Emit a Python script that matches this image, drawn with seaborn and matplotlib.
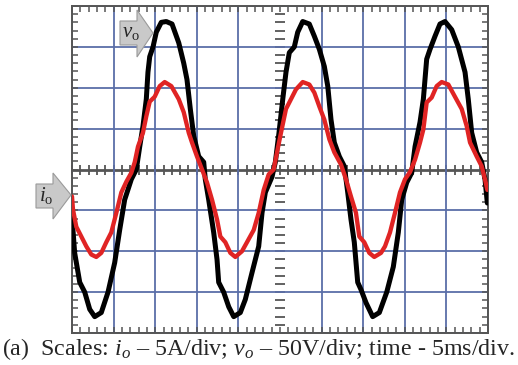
import numpy as np
import pandas as pd
import matplotlib
matplotlib.use("Agg")
import matplotlib.pyplot as plt
import seaborn as sns
from matplotlib.patches import Polygon
from matplotlib.ticker import MultipleLocator, FixedLocator, NullFormatter


# scope scales
V_PER_DIV = 50
A_PER_DIV = 5
MS_PER_DIV = 5

# output voltage v_o (time in ms, volts)
vo_time = [0.0, 0.32, 0.93, 1.53, 2.13, 2.73, 3.52, 4.33, 5.13, 5.73, 6.33, 7.13,
           7.73, 8.14, 8.53, 8.93, 9.13, 9.34, 9.74, 10.13, 10.73, 11.33, 12.02,
           12.83, 13.43, 13.82, 14.22, 14.63, 15.23, 15.83, 16.02, 16.43, 17.03,
           17.43, 17.63, 18.23, 18.84, 19.44, 20.23, 20.83, 21.64, 22.44, 22.84,
           23.24, 24.04, 24.44, 24.88, 25.33, 25.72, 26.12, 26.72, 27.13, 27.73,
           28.52, 29.13, 29.73, 30.33, 30.74, 31.13, 31.53, 32.13, 32.73, 33.14,
           33.53, 33.93, 34.34, 34.74, 35.34, 36.14, 36.94, 37.83, 38.62, 39.22,
           39.63, 40.23, 40.83, 41.23, 41.83, 42.23, 42.63, 43.03, 43.63, 44.23,
           44.83, 45.64, 46.43, 47.24, 47.63, 48.04, 48.64, 49.24, 49.64, 49.92]
vo_volts = [-58, -102, -138, -150, -171, -180, -175, -150, -114, -74, -37, -12,
            0, 28, 53, 86, 119, 138, 150, 168, 180, 181, 178,
            155, 130, 110, 74, 41, 16, 9, -12, -37, -77,
            -110, -138, -150, -168, -180, -175, -159, -126, -94, -53,
            -28, -9, 9, 45, 86, 119, 143, 150, 168, 181,
            178, 163, 147, 126, 102, 61, 33, 16, 4, -28,
            -61, -89, -138, -147, -163, -180, -175, -150, -119, -77,
            -37, -16, -4, 28, 58, 86, 135, 147, 163, 178,
            181, 171, 150, 119, 86, 45, 21, 9, -12, -41]

# output current i_o (time in ms, amps)
io_time = [0.0, 0.12, 0.52, 1.12, 1.72, 2.32, 2.92, 3.52, 4.12, 4.72, 5.33, 5.93,
           6.53, 7.13, 7.54, 7.93, 8.53, 8.93, 9.34, 9.94, 10.54, 11.14, 11.94,
           12.83, 13.43, 14.03, 14.42, 15.02, 15.63, 16.23, 16.83, 17.43, 17.83,
           18.43, 19.03, 19.63, 20.43, 21.03, 21.84, 22.44, 23.04, 23.64, 24.24,
           24.72, 25.12, 25.72, 26.32, 26.92, 27.73, 28.52, 29.13, 29.73, 30.33,
           30.93, 31.53, 32.33, 32.93, 33.53, 34.13, 34.53, 35.13, 35.73, 36.33,
           37.14, 37.62, 38.22, 38.82, 39.42, 40.02, 40.63, 41.23, 41.83, 42.23,
           42.63, 43.23, 43.83, 44.43, 45.23, 46.03, 46.84, 47.44, 47.84, 48.64,
           49.24, 49.64, 49.92]
io_amps = [-3.3, -4.9, -7.0, -8.2, -9.4, -10.4, -10.7, -10.2, -8.9, -7.7, -5.3, -2.8,
           -1.5, -0.4, 0.9, 2.8, 4.5, 6.5, 8.3, 8.9, 10.2, 10.7, 10.2,
           8.6, 7.0, 4.5, 3.3, 1.6, 0.0, -1.6, -3.7, -6.1, -8.2,
           -8.9, -10.2, -10.7, -10.0, -8.9, -7.4, -5.3, -2.5, -0.6, 0.0,
           2.5, 4.5, 7.4, 8.6, 9.8, 10.7, 10.4, 9.4, 7.7, 6.1,
           3.7, 2.1, 0.6, -1.2, -3.3, -5.3, -8.2, -8.9, -10.2, -10.7,
           -10.2, -9.4, -7.7, -5.3, -2.8, -1.2, -0.3, 1.2, 3.3, 4.9,
           8.2, 8.8, 10.2, 10.7, 10.4, 8.9, 7.4, 5.3, 3.3, 1.6,
           0.4, -1.2, -2.5]

caption = "(a)  Scales: $i_o$ \u2013 5A/div; $v_o$ \u2013 50V/div; time - 5ms/div."

sns.set_style("white")
plt.rcParams["font.family"] = ["Liberation Serif", "DejaVu Serif"]
plt.rcParams["mathtext.fontset"] = "custom"
plt.rcParams["mathtext.rm"] = "Liberation Serif"
plt.rcParams["mathtext.it"] = "Liberation Serif:italic"

W, H = 518, 365
GRID = "#5a6ea8"
AXC = "#555555"


def fpos(x, y):
    # pixel (from top-left) -> figure fraction
    return (x / W, 1 - y / H)


vo_df = pd.DataFrame({"t": vo_time, "div": np.array(vo_volts) / V_PER_DIV})
io_df = pd.DataFrame({"t": io_time, "div": np.array(io_amps) / A_PER_DIV})

fig = plt.figure(figsize=(W / 100, H / 100), dpi=100)
ax = fig.add_axes([72 / W, 1 - 333 / H, 416 / W, 327 / H])

ax.set_xlim(0, 10 * MS_PER_DIV)
ax.set_ylim(-4, 4)
ax.xaxis.set_major_locator(FixedLocator([0, 5, 10, 15, 20, 30, 35, 40, 45, 50]))
ax.xaxis.set_minor_locator(MultipleLocator(MS_PER_DIV / 5))
ax.yaxis.set_major_locator(FixedLocator([-4, -3, -2, -1, 1, 2, 3, 4]))
ax.yaxis.set_minor_locator(MultipleLocator(0.2))
ax.xaxis.set_major_formatter(NullFormatter())
ax.yaxis.set_major_formatter(NullFormatter())
ax.grid(True, which="major", color=GRID, linewidth=1.3)
ax.tick_params(which="both", direction="in", top=True, right=True,
               left=True, bottom=True, length=4, width=1.1, color=AXC)
for s in ax.spines.values():
    s.set_color(AXC)
    s.set_linewidth(1.4)
ax.set_axisbelow(True)

sns.lineplot(data=vo_df, x="t", y="div", ax=ax, color="black", linewidth=3.6,
             sort=False, estimator=None, zorder=3,
             solid_joinstyle="round", solid_capstyle="round")
sns.lineplot(data=io_df, x="t", y="div", ax=ax, color="#e02424", linewidth=3.1,
             sort=False, estimator=None, zorder=4,
             solid_joinstyle="round", solid_capstyle="round")
ax.set_xlabel("")
ax.set_ylabel("")

# centre graticule: horizontal line with ticks, vertical tick column only
cx = fig.add_axes(ax.get_position(), facecolor="none")
cx.set_xlim(ax.get_xlim())
cx.set_ylim(ax.get_ylim())
cx.spines["left"].set_position(("data", 5 * MS_PER_DIV))
cx.spines["bottom"].set_position(("data", 0))
cx.spines["top"].set_visible(False)
cx.spines["right"].set_visible(False)
cx.spines["left"].set_color("none")
cx.spines["bottom"].set_color(AXC)
cx.spines["bottom"].set_linewidth(2.0)
cx.xaxis.set_major_locator(MultipleLocator(MS_PER_DIV))
cx.xaxis.set_minor_locator(MultipleLocator(MS_PER_DIV / 5))
cx.yaxis.set_major_locator(MultipleLocator(1))
cx.yaxis.set_minor_locator(MultipleLocator(0.2))
cx.xaxis.set_major_formatter(NullFormatter())
cx.yaxis.set_major_formatter(NullFormatter())
cx.tick_params(which="both", direction="inout", length=7, width=1.3,
               color=AXC, left=True, bottom=True, top=False, right=False)
cx.set_zorder(ax.get_zorder() - 0.5)
ax.set_zorder(cx.get_zorder() + 1)
ax.patch.set_alpha(0)

# channel markers
for pts, label, tx, ty in [
    ([(120, 21), (137, 21), (137, 10), (153, 33), (137, 57), (137, 45), (120, 45)],
     r"$v_\mathrm{o}$", 122, 33),
    ([(36, 184), (53, 184), (53, 173), (71, 195), (53, 219), (53, 208), (36, 208)],
     r"$i_\mathrm{o}$", 39, 196),
]:
    poly = Polygon([fpos(x, y) for x, y in pts], closed=True,
                   transform=fig.transFigure, facecolor="#c9c9c9",
                   edgecolor="#9a9a9a", linewidth=0.8, zorder=10)
    fig.add_artist(poly)
    fig.text(*fpos(tx, ty), label, fontsize=15, ha="left", va="center", zorder=11)

fig.text(*fpos(2, 349), caption, fontsize=17.3, ha="left", va="center")

fig.savefig("out.png", dpi=100)
